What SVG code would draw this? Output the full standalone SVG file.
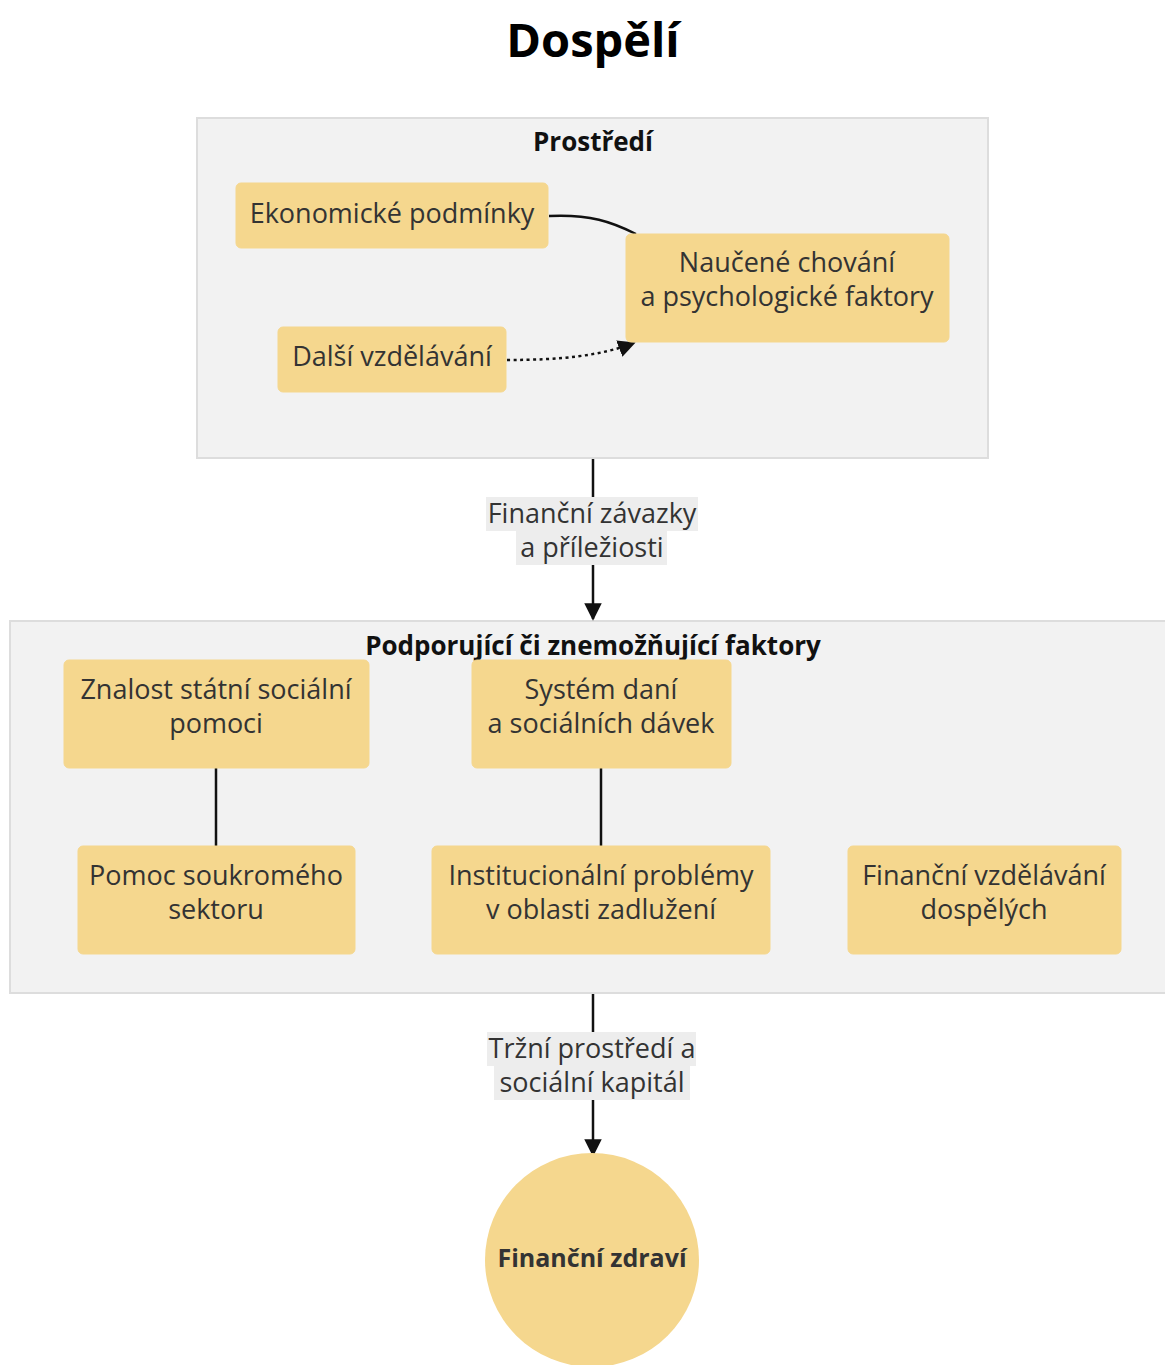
<svg xmlns="http://www.w3.org/2000/svg" width="1165" height="1365" viewBox="0 0 1165 1365">
<defs>
<style>
.cl{fill:#f2f2f2;stroke:#dddddd;stroke-width:2}
.nd{fill:#f5d78e;stroke:#f5d78e;stroke-width:1}
.t{font-family:"Open Sans","Noto Sans",sans-serif;font-size:27px;fill:#333333;text-anchor:middle}
.ct{font-family:"Open Sans","Noto Sans",sans-serif;font-size:26px;font-weight:bold;fill:#111111;text-anchor:middle}
.e{fill:none;stroke:#111111;stroke-width:2.5}
.lb{fill:#ededed}
</style>
<marker id="ah" viewBox="0 0 10 10" refX="9" refY="5" markerWidth="7" markerHeight="7" orient="auto" markerUnits="strokeWidth">
<path d="M0,0 L10,5 L0,10 z" fill="#111111"/>
</marker>
</defs>
<rect width="1165" height="1365" fill="#ffffff"/>
<text x="593" y="57" font-family="'Open Sans','Noto Sans',sans-serif" font-size="47" font-weight="bold" fill="#000" text-anchor="middle">Dospělí</text>

<g id="cluster-prostredi">
<rect class="cl" x="197" y="118" width="791" height="340"/>
<text class="ct" x="593" y="151">Prostředí</text>
</g>
<g id="cluster-faktory">
<rect class="cl" x="10" y="621" width="1165" height="372"/>
<text class="ct" x="593" y="655">Podporující či znemožňující faktory</text>
</g>

<g id="connectors">
<path class="e" d="M549,216 C590,214 612,222 636,234"/>
<path class="e" d="M507,360 C560,360 600,356 634,343" stroke-width="2.8" stroke-dasharray="3,3.5" marker-end="url(#ah)"/>
<path class="e" d="M593,459 L593,619" marker-end="url(#ah)"/>
<path class="e" d="M216,768 L216,846"/>
<path class="e" d="M601,768 L601,846"/>
<path class="e" d="M593,994 L593,1155" marker-end="url(#ah)"/>
<g id="label-1">
<rect class="lb" x="486" y="497" width="212" height="34"/>
<rect class="lb" x="516" y="531" width="151" height="34"/>
<text class="t" x="592" y="523">Finanční závazky</text>
<text class="t" x="592" y="557">a příležiosti</text>
</g>
<g id="label-2">
<rect class="lb" x="487" y="1032" width="209" height="34"/>
<rect class="lb" x="494" y="1066" width="196" height="34"/>
<text class="t" x="592" y="1058">Tržní prostředí a</text>
<text class="t" x="592" y="1092">sociální kapitál</text>
</g>
</g>

<g id="n-ekonomicke">
<rect class="nd" x="236" y="183" width="312" height="65" rx="5"/>
<text class="t" x="392" y="223">Ekonomické podmínky</text>
</g>
<g id="n-naucene">
<rect class="nd" x="626" y="234" width="323" height="108" rx="5"/>
<text class="t" x="787" y="272">Naučené chování</text>
<text class="t" x="787" y="306">a psychologické faktory</text>
</g>
<g id="n-dalsi">
<rect class="nd" x="278" y="327" width="228" height="65" rx="5"/>
<text class="t" x="392" y="366">Další vzdělávání</text>
</g>
<g id="n-znalost">
<rect class="nd" x="64" y="660" width="305" height="108" rx="5"/>
<text class="t" x="216" y="699">Znalost státní sociální</text>
<text class="t" x="216" y="733">pomoci</text>
</g>
<g id="n-system">
<rect class="nd" x="472" y="660" width="259" height="108" rx="5"/>
<text class="t" x="601" y="699">Systém daní</text>
<text class="t" x="601" y="733">a sociálních dávek</text>
</g>
<g id="n-pomoc">
<rect class="nd" x="78" y="846" width="277" height="108" rx="5"/>
<text class="t" x="216" y="885">Pomoc soukromého</text>
<text class="t" x="216" y="919">sektoru</text>
</g>
<g id="n-instituc">
<rect class="nd" x="432" y="846" width="338" height="108" rx="5"/>
<text class="t" x="601" y="885">Institucionální problémy</text>
<text class="t" x="601" y="919">v oblasti zadlužení</text>
</g>
<g id="n-financni-vzd">
<rect class="nd" x="848" y="846" width="273" height="108" rx="5"/>
<text class="t" x="984" y="885">Finanční vzdělávání</text>
<text class="t" x="984" y="919">dospělých</text>
</g>
<g id="n-zdravi">
<circle cx="592" cy="1260" r="107" fill="#f5d78e"/>
<text x="592" y="1267" font-family="'Open Sans','Noto Sans',sans-serif" font-size="25" font-weight="bold" fill="#333333" text-anchor="middle">Finanční zdraví</text>
</g>
</svg>
